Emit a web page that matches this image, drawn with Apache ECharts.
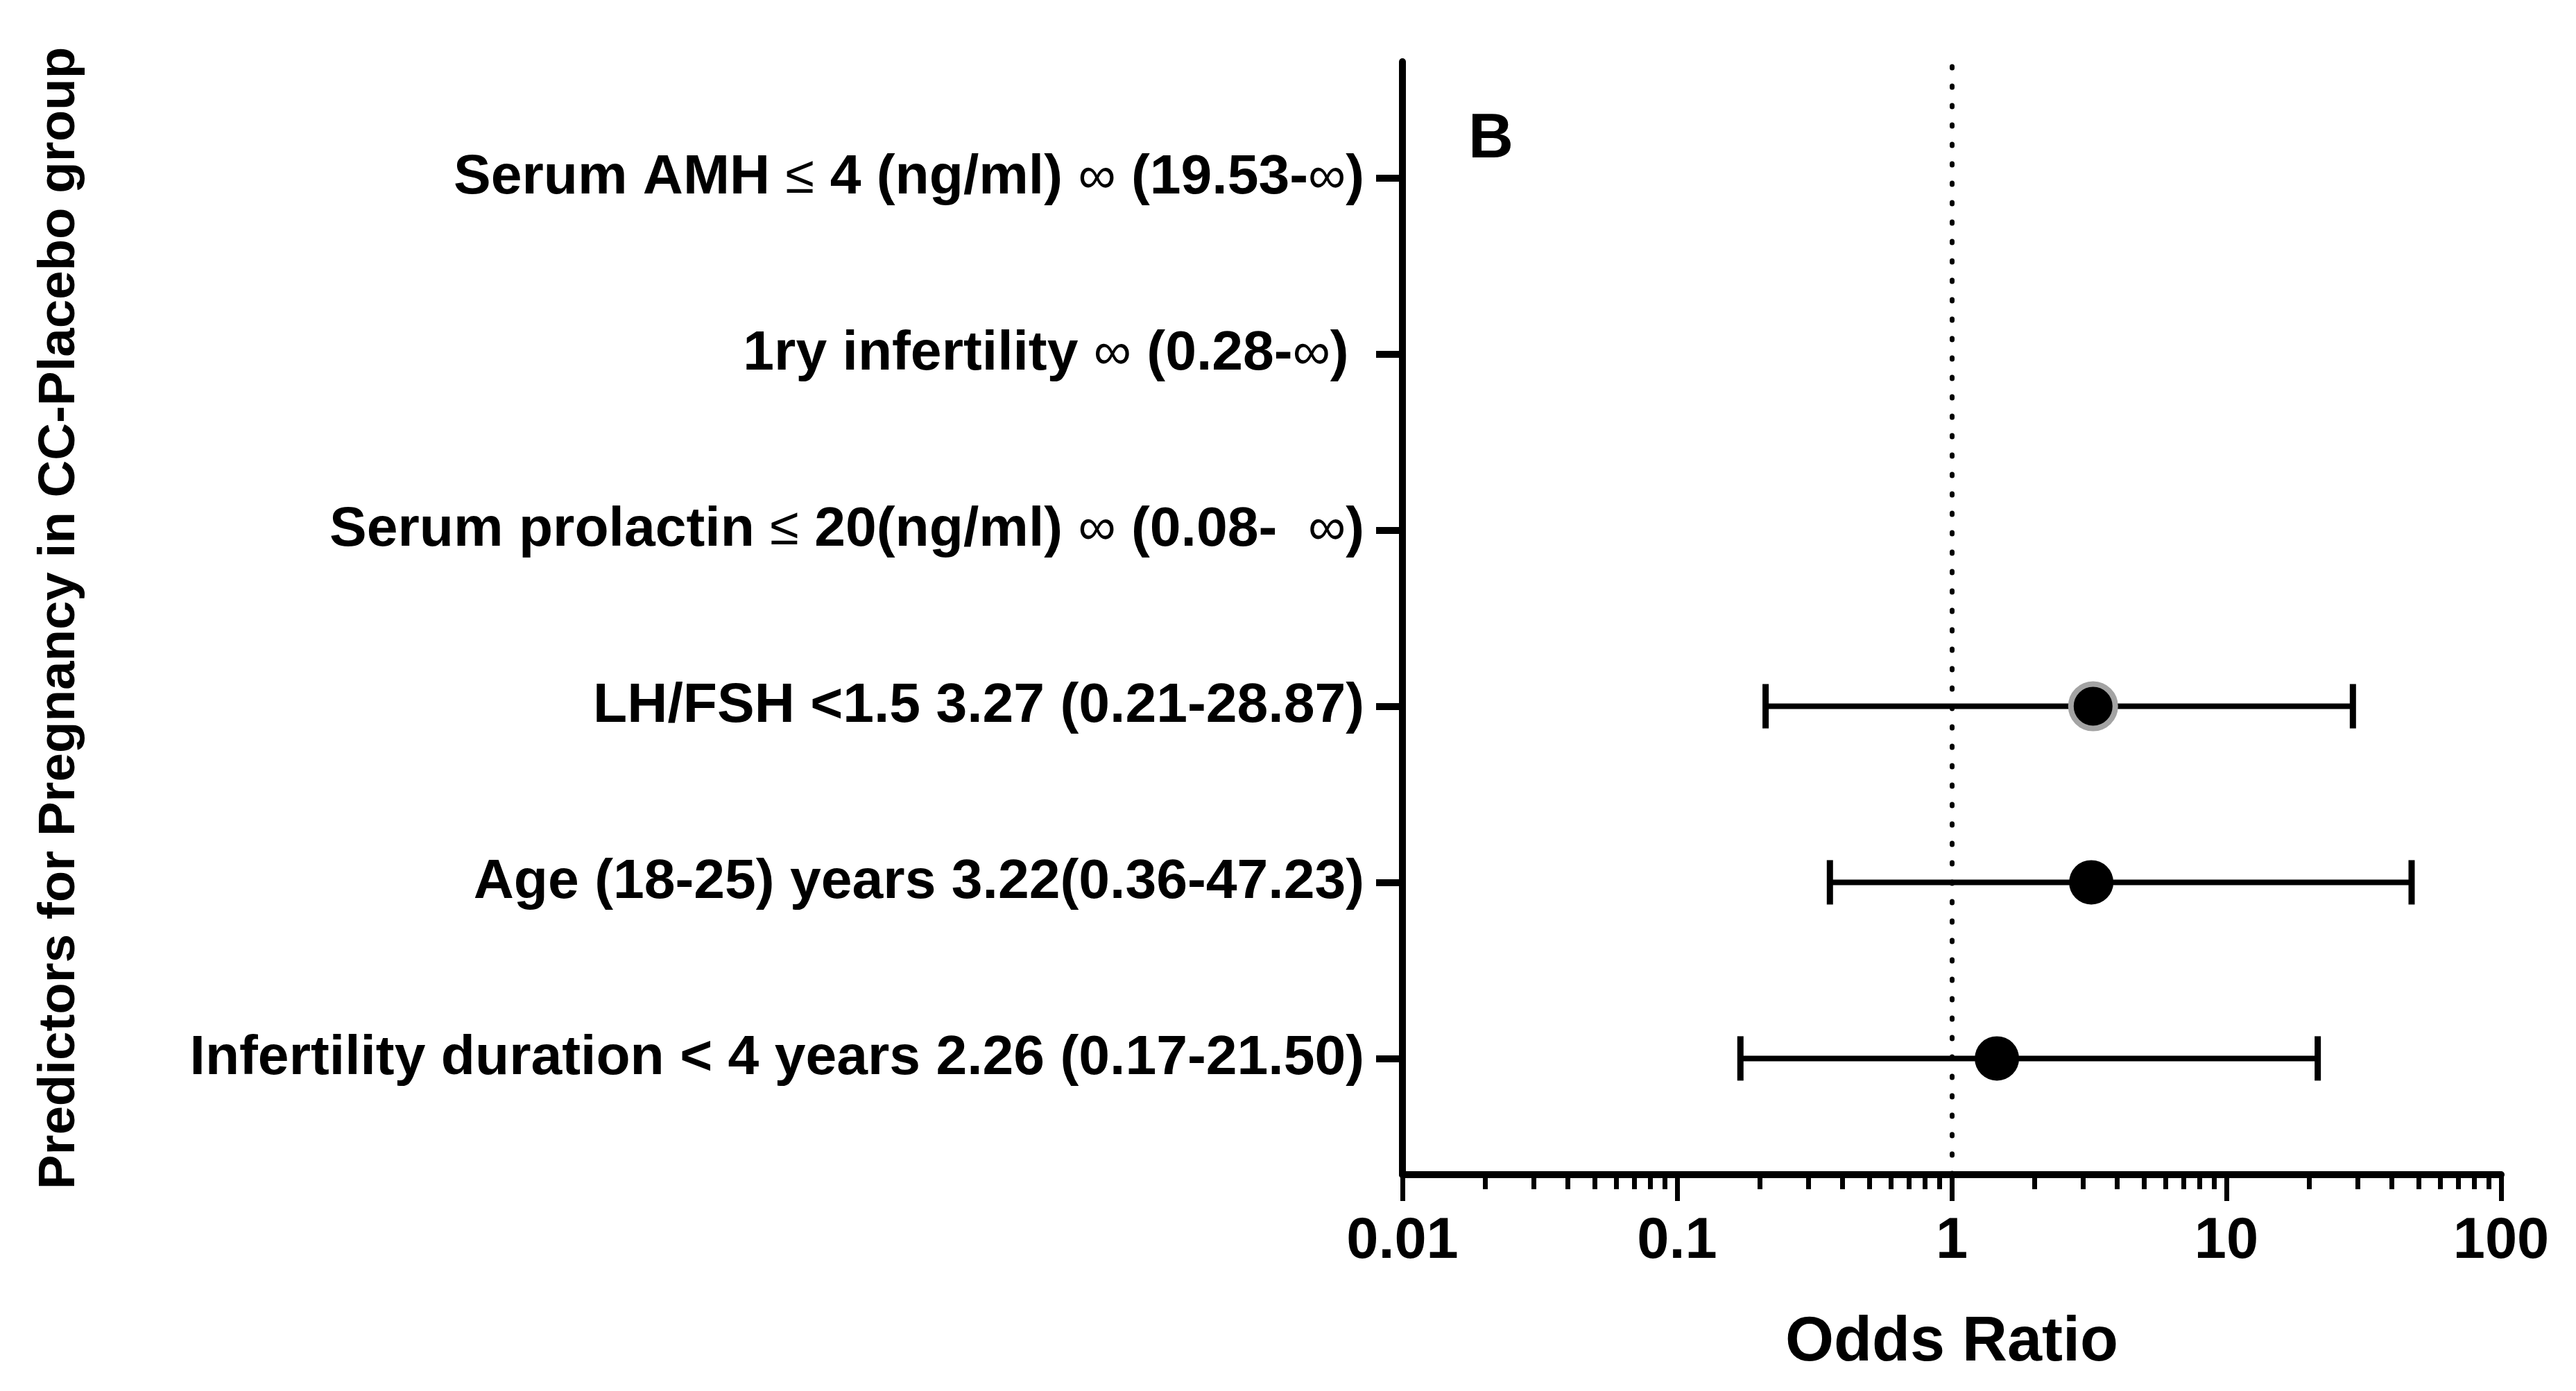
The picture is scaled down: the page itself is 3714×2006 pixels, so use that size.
<!DOCTYPE html>
<html><head><meta charset="utf-8">
<script src="https://cdn.jsdelivr.net/npm/echarts@6/dist/echarts.min.js"></script>
<style>html,body{margin:0;padding:0;background:#fff}#c{width:3714px;height:2006px}</style>
</head><body><div id="c"></div>
<script>
// Rows, top to bottom
const categories = [
  'Serum AMH ≤ 4 (ng/ml) ∞ (19.53-∞)',
  '1ry infertility ∞ (0.28-∞) ',
  'Serum prolactin ≤ 20(ng/ml) ∞ (0.08-  ∞)',
  'LH/FSH <1.5 3.27 (0.21-28.87)',
  'Age (18-25) years 3.22(0.36-47.23)',
  'Infertility duration < 4 years 2.26 (0.17-21.50)'
];
// plotted point (as drawn in the picture) and confidence limits
const oddsRatio = [null, null, null, 3.27, 3.22, 1.46];
const ciLow     = [null, null, null, 0.21, 0.36, 0.17];
const ciHigh    = [null, null, null, 28.87, 47.23, 21.50];
const pointBorder = [null, null, null, '#a3a3a3', null, null];
const xMajorTicks = [0.01, 0.1, 1, 10, 100];
const xMinorMultipliers = [2, 3, 4, 5, 6, 7, 8, 9];
const referenceValue = 1;
const panelLetter = 'B';
const xTitle = 'Odds Ratio';
const yTitle = 'Predictors for Pregnancy in CC-Placebo group';

const n = categories.length;
const rowPos = categories.map((c, i) => n - i);
const xMinorTicks = [];
xMajorTicks.slice(0, -1).forEach(d => xMinorMultipliers.forEach(m => xMinorTicks.push(+(d * m).toPrecision(3))));

const scatterData = [];
const barData = [];
categories.forEach((c, i) => {
  if (oddsRatio[i] != null) {
    const item = { value: [oddsRatio[i], rowPos[i]] };
    if (pointBorder[i]) item.itemStyle = { borderColor: pointBorder[i], borderWidth: 8 };
    scatterData.push(item);
  }
  if (ciLow[i] != null) barData.push([ciLow[i], ciHigh[i], rowPos[i]]);
});

const FONT = 'Liberation Sans, Arial, sans-serif';
const chart = echarts.init(document.getElementById('c'), null, { renderer: 'canvas' });
chart.setOption({
  backgroundColor: '#ffffff',
  animation: false,
  title: {
    text: panelLetter, left: 2112, top: 152,
    textStyle: { fontFamily: FONT, fontWeight: 'bold', fontSize: 90, color: '#000' }
  },
  grid: { left: 2022, right: 108, top: 89, bottom: 312, containLabel: false },
  xAxis: [{
    type: 'log', logBase: 10, min: 0.01, max: 100,
    name: xTitle, nameLocation: 'middle', nameGap: 198,
    nameTextStyle: { fontFamily: FONT, fontWeight: 'bold', fontSize: 90, color: '#000' },
    axisLine: { show: true, onZero: false, lineStyle: { color: '#000', width: 10 } },
    axisTick: { show: true, customValues: xMajorTicks, length: 38, lineStyle: { color: '#000', width: 7 } },
    axisLabel: {
      customValues: xMajorTicks, margin: 56,
      fontFamily: FONT, fontWeight: 'bold', fontSize: 83, color: '#000',
      formatter: v => String(+v.toPrecision(3))
    },
    splitLine: { show: false }, minorTick: { show: false }
  }, {
    type: 'log', logBase: 10, min: 0.01, max: 100, position: 'bottom',
    axisLine: { show: false },
    axisTick: { show: true, customValues: xMinorTicks, length: 21, lineStyle: { color: '#000', width: 7 } },
    axisLabel: { show: false },
    splitLine: { show: false }
  }],
  yAxis: {
    type: 'value', min: 0.34, max: n + 0.66,
    name: yTitle, nameLocation: 'middle', nameRotate: 90, nameGap: 1898,
    nameTextStyle: { fontFamily: FONT, fontWeight: 'bold', fontSize: 74.5, color: '#000' },
    axisLine: { show: true, lineStyle: { color: '#000', width: 10 } },
    axisTick: { show: true, customValues: rowPos, length: 38, lineStyle: { color: '#000', width: 10 } },
    axisLabel: {
      customValues: rowPos, margin: 55,
      fontFamily: FONT, fontWeight: 'bold', fontSize: 80.5, color: '#000',
      formatter: v => {
        const idx = n - Math.round(v);
        const t = categories[idx] || '';
        return t.replace(/∞/g, '{s|∞}').replace(/≤/g, '{s|≤}');
      },
      rich: { s: { fontFamily: FONT, fontWeight: 'normal', fontSize: 76, color: '#000' } }
    },
    splitLine: { show: false }
  },
  series: [{
    type: 'custom', xAxisIndex: 0, yAxisIndex: 0, z: 3,
    data: barData,
    renderItem: (params, api) => {
      const p1 = api.coord([api.value(0), api.value(2)]);
      const p2 = api.coord([api.value(1), api.value(2)]);
      const h = 32;
      const st = { stroke: '#000', lineWidth: 8 };
      const cs = { stroke: '#000', lineWidth: 9 };
      return { type: 'group', children: [
        { type: 'line', shape: { x1: p1[0], y1: p1[1], x2: p2[0], y2: p2[1] }, style: st },
        { type: 'line', shape: { x1: p1[0], y1: p1[1] - h, x2: p1[0], y2: p1[1] + h }, style: cs },
        { type: 'line', shape: { x1: p2[0], y1: p2[1] - h, x2: p2[0], y2: p2[1] + h }, style: cs }
      ]};
    },
    markLine: {
      silent: true, symbol: 'none', label: { show: false },
      lineStyle: { color: '#000', width: 7, type: [2, 26], cap: 'round' },
      data: [{ xAxis: referenceValue }]
    }
  }, {
    type: 'scatter', xAxisIndex: 0, yAxisIndex: 0, z: 4,
    symbol: 'circle', symbolSize: 64,
    itemStyle: { color: '#000', opacity: 1 },
    data: scatterData
  }]
});
</script></body></html>
